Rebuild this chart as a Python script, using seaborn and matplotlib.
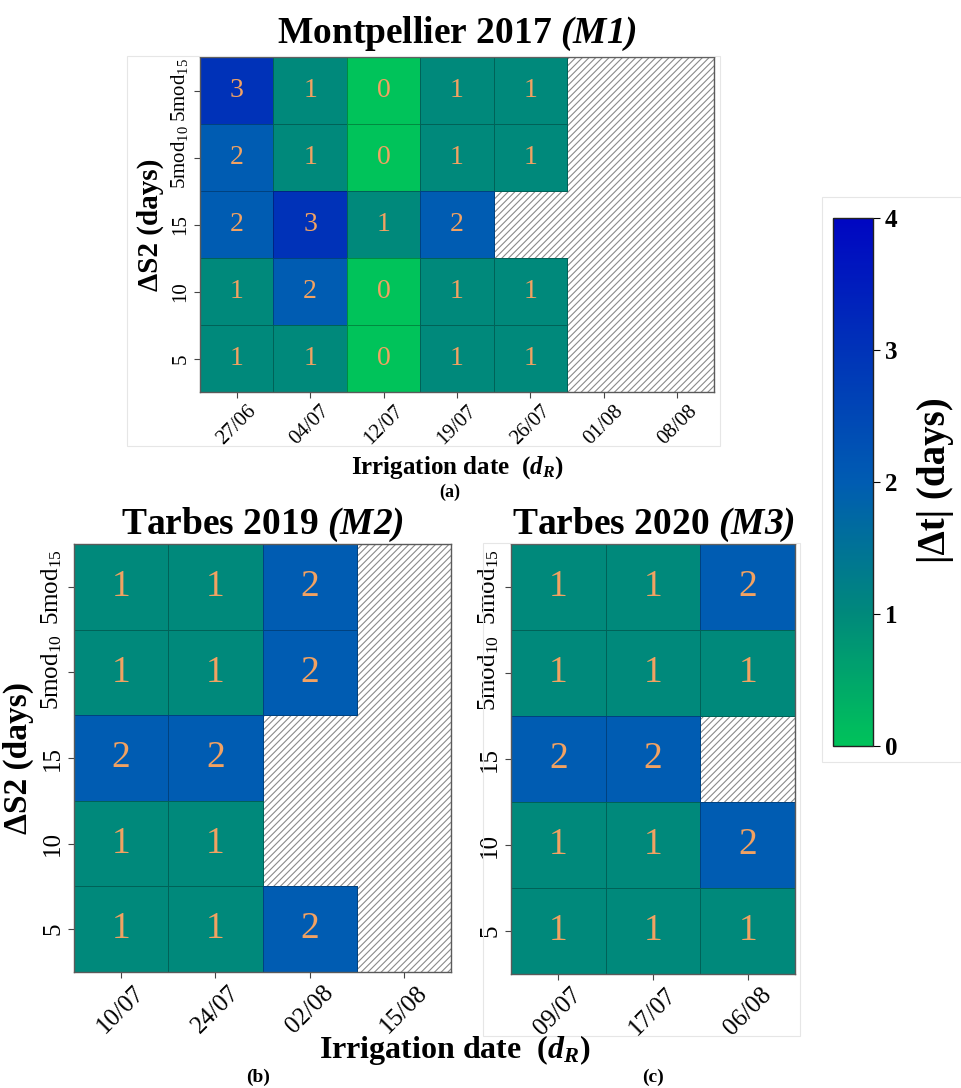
import numpy as np
import pandas as pd
import matplotlib
matplotlib.use("Agg")
import matplotlib.pyplot as plt
import seaborn as sns
from matplotlib.colors import LinearSegmentedColormap, to_rgba
from matplotlib.patches import Rectangle

nan = np.nan

# ---------------- data ----------------
row_labels = [r"5mod$_{15}$", r"5mod$_{10}$", "15", "10", "5"]

a_dates = ["27/06", "04/07", "12/07", "19/07", "26/07", "01/08", "08/08"]
a_5mod15 = [3, 1, 0, 1, 1, nan, nan]
a_5mod10 = [2, 1, 0, 1, 1, nan, nan]
a_15 = [2, 3, 1, 2, nan, nan, nan]
a_10 = [1, 2, 0, 1, 1, nan, nan]
a_5 = [1, 1, 0, 1, 1, nan, nan]

b_dates = ["10/07", "24/07", "02/08", "15/08"]
b_5mod15 = [1, 1, 2, nan]
b_5mod10 = [1, 1, 2, nan]
b_15 = [2, 2, nan, nan]
b_10 = [1, 1, nan, nan]
b_5 = [1, 1, 2, nan]

c_dates = ["09/07", "17/07", "06/08"]
c_5mod15 = [1, 1, 2]
c_5mod10 = [1, 1, 1]
c_15 = [2, 2, nan]
c_10 = [1, 1, 2]
c_5 = [1, 1, 1]

cbar_ticks = [0, 1, 2, 3, 4]

# ---------------- style ----------------
plt.rcParams["font.family"] = ["Liberation Serif", "DejaVu Serif"]
plt.rcParams["mathtext.fontset"] = "custom"
plt.rcParams["mathtext.rm"] = "Liberation Serif"
plt.rcParams["mathtext.it"] = "Liberation Serif:italic"
plt.rcParams["mathtext.bf"] = "Liberation Serif:bold:italic"
plt.rcParams["hatch.linewidth"] = 0.8

cmap = LinearSegmentedColormap.from_list(
    "gb", [(0.0, "#00C35A"), (0.25, "#00897B"), (0.5, "#005CB2"),
           (0.75, "#0033B8"), (1.0, "#0006C2")])

W, H = 962, 1088
fig = plt.figure(figsize=(W / 100, H / 100), dpi=100)


def px_axes(x0, y0, x1, y1):
    return fig.add_axes([x0 / W, 1 - y1 / H, (x1 - x0) / W, (y1 - y0) / H])


def frame_box(x0, y0, x1, y1):
    fig.patches.append(Rectangle((x0 / W, 1 - y1 / H), (x1 - x0) / W, (y1 - y0) / H,
                                 transform=fig.transFigure, fill=False,
                                 edgecolor="#e6e6e6", lw=0.8, zorder=0))


frame_box(127, 56, 720, 446)
frame_box(483, 543, 800, 1036)
frame_box(822, 197, 961, 762)


def panel(ax, rows, cols, annot_size, tick_size, cbar_ax=None):
    df = pd.DataFrame(rows, index=row_labels, columns=cols)
    ax.add_patch(Rectangle((0, 0), len(cols), len(row_labels), facecolor="white",
                           edgecolor="#8a8a8a", hatch="/////", lw=0, zorder=0))
    sns.heatmap(df, ax=ax, cmap=cmap, vmin=0, vmax=4, annot=True, fmt=".0f",
                annot_kws=dict(color="#F2A262", fontsize=annot_size),
                linewidths=0.7, linecolor=(0, 0, 0, 0.28),
                cbar=cbar_ax is not None, cbar_ax=cbar_ax)
    # no cell borders on the missing (hatched) cells
    mesh = ax.collections[0]
    mask = np.ma.getmaskarray(mesh.get_array()).ravel()
    ec = np.array([to_rgba("black", 0.28)] * mask.size)
    ec[mask] = (0, 0, 0, 0)
    mesh.set_edgecolors(ec)
    for s in ax.spines.values():
        s.set_visible(True)
        s.set_color("#5a5a5a")
        s.set_linewidth(1.0)
    ax.set_xticklabels(cols, rotation=45, ha="center", fontsize=tick_size)
    ax.set_yticklabels(row_labels, rotation=90, va="center", fontsize=tick_size)
    ax.tick_params(length=4, width=0.8, color="#444444", pad=3)
    ax.set_xlabel("")
    ax.set_ylabel("")


# panel a
ax_a = px_axes(200, 57, 714, 392)
cax = px_axes(833, 218, 873, 746)
panel(ax_a, [a_5mod15, a_5mod10, a_15, a_10, a_5], a_dates, 20, 15, cbar_ax=cax)
ax_a.set_title(r"Montpellier 2017 $\mathbf{(M1)}$", fontsize=27, fontweight="bold", pad=10)
ax_a.set_ylabel("ΔS2 (days)", fontsize=21, fontweight="bold", labelpad=4)
ax_a.set_xlabel("Irrigation date  (" + r"$\mathbf{d_R}$" + ")", fontsize=18,
                fontweight="bold", labelpad=4)

# panel b
ax_b = px_axes(74, 544, 451, 972)
panel(ax_b, [b_5mod15, b_5mod10, b_15, b_10, b_5], b_dates, 27, 18)
ax_b.set_title(r"Tarbes 2019 $\mathbf{(M2)}$", fontsize=27, fontweight="bold", pad=4)
ax_b.set_ylabel("ΔS2 (days)", fontsize=24, fontweight="bold", labelpad=4)

# panel c
ax_c = px_axes(511, 544, 795, 974)
panel(ax_c, [c_5mod15, c_5mod10, c_15, c_10, c_5], c_dates, 27, 18)
ax_c.set_title(r"Tarbes 2020 $\mathbf{(M3)}$", fontsize=27, fontweight="bold", pad=4)

# colorbar
cb = ax_a.collections[0].colorbar
cb.set_ticks(cbar_ticks)
cb.ax.tick_params(labelsize=18, length=5, width=0.8)
for t in cb.ax.get_yticklabels():
    t.set_fontweight("bold")
cb.outline.set_edgecolor("#222222")
cb.outline.set_linewidth(1.0)
fig.text(936 / W, 1 - 480 / H, "|Δt| (days)", fontsize=28, fontweight="bold",
         rotation=90, ha="center", va="center")

# shared label and panel letters
fig.text(455 / W, 1 - 1050 / H, "Irrigation date  (" + r"$\mathbf{d_R}$" + ")", fontsize=23,
         fontweight="bold", ha="center", va="center")
fig.text(450 / W, 1 - 492 / H, "(a)", fontsize=13, fontweight="bold", ha="center", va="center")
fig.text(258 / W, 1 - 1077 / H, "(b)", fontsize=14, fontweight="bold", ha="center", va="center")
fig.text(653 / W, 1 - 1077 / H, "(c)", fontsize=14, fontweight="bold", ha="center", va="center")

fig.savefig("out.png", dpi=100, facecolor="white")
